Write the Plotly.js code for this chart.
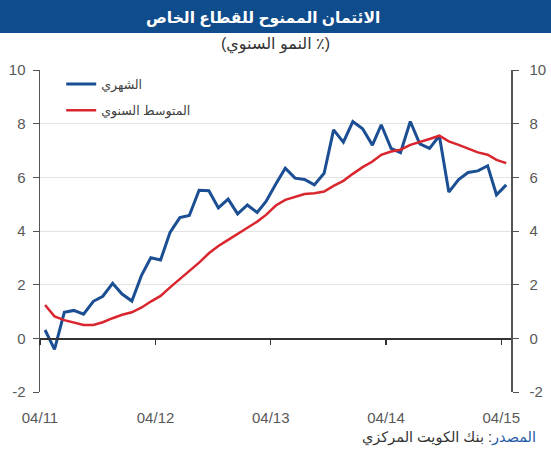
<!DOCTYPE html>
<html>
<head>
<meta charset="utf-8">
<script src="https://cdn.plot.ly/plotly-3.0.1.min.js"></script>
<style>
  html, body { margin: 0; padding: 0; background: #ffffff; }
  #chart { width: 551px; height: 450px; }
</style>
</head>
<body>
<div id="chart"></div>
<script>
// ---- Data ----
const months = [
  "2011-04-01","2011-05-01","2011-06-01","2011-07-01","2011-08-01","2011-09-01",
  "2011-10-01","2011-11-01","2011-12-01","2012-01-01","2012-02-01","2012-03-01",
  "2012-04-01","2012-05-01","2012-06-01","2012-07-01","2012-08-01","2012-09-01",
  "2012-10-01","2012-11-01","2012-12-01","2013-01-01","2013-02-01","2013-03-01",
  "2013-04-01","2013-05-01","2013-06-01","2013-07-01","2013-08-01","2013-09-01",
  "2013-10-01","2013-11-01","2013-12-01","2014-01-01","2014-02-01","2014-03-01",
  "2014-04-01","2014-05-01","2014-06-01","2014-07-01","2014-08-01","2014-09-01",
  "2014-10-01","2014-11-01","2014-12-01","2015-01-01","2015-02-01","2015-03-01",
  "2015-04-01"
];

const monthly = [
  0.31, -0.41, 0.97, 1.04, 0.90, 1.38, 1.57, 2.05, 1.65, 1.39, 2.36, 3.00,
  2.92, 3.95, 4.50, 4.58, 5.52, 5.50, 4.86, 5.19, 4.64, 4.97, 4.69, 5.10,
  5.75, 6.34, 5.97, 5.92, 5.72, 6.15, 7.77, 7.31, 8.08, 7.81, 7.20, 7.96,
  7.08, 6.92, 8.08, 7.25, 7.08, 7.55, 5.45, 5.92, 6.18, 6.24, 6.43, 5.35,
  5.72
];

const annualAvg = [
  1.24, 0.82, 0.68, 0.60, 0.50, 0.50, 0.60, 0.75, 0.88, 0.97, 1.15, 1.37,
  1.58, 1.90, 2.20, 2.49, 2.82, 3.17, 3.44, 3.67, 3.89, 4.14, 4.35, 4.60,
  4.95, 5.16, 5.28, 5.38, 5.41, 5.47, 5.68, 5.87, 6.13, 6.38, 6.59, 6.84,
  6.96, 7.03, 7.21, 7.31, 7.43, 7.55, 7.34, 7.21, 7.06, 6.93, 6.84, 6.65,
  6.53
];

const seriesNames = ["الشهري", "المتوسط السنوي"];
const tickDates = ["2011-03-16", "2012-03-16", "2013-03-16", "2014-03-16", "2015-03-16"];
const tickLabels = ["04/11", "04/12", "04/13", "04/14", "04/15"];
const yTicks = [-2, 0, 2, 4, 6, 8, 10];
const yTickLabels = ["-2", "0", "2", "4", "6", "8", "10"];

const titleText = "الائتمان الممنوح للقطاع الخاص";
const subtitleText = "(النمو السنوي ٪)";
const sourceLabel = "المصدر";
const sourceText = "بنك الكويت المركزي";

// ---- Styling ----
const FONT = "Liberation Sans, Arial, DejaVu Sans, sans-serif";
const xRange = ["2011-03-16", "2015-04-16"];
const yRange = [-2, 10];

const traces = [
  {
    x: months, y: monthly, name: seriesNames[0],
    type: "scatter", mode: "lines",
    line: { color: "#1b4e93", width: 3 },
    xaxis: "x", yaxis: "y",
    legendgroup: "a"
  },
  {
    x: months, y: annualAvg, name: seriesNames[1],
    type: "scatter", mode: "lines",
    line: { color: "#d9262e", width: 2.5 },
    xaxis: "x2", yaxis: "y2",
    legendgroup: "b"
  }
];

const layout = {
  width: 551, height: 450,
  margin: { l: 40, r: 40, t: 70, b: 58 },
  paper_bgcolor: "#ffffff",
  plot_bgcolor: "#ffffff",
  font: { family: FONT, color: "#595959", size: 15 },
  showlegend: true,
  legend: {
    x: 0.045, y: 1.002, xanchor: "left", yanchor: "top",
    bgcolor: "rgba(0,0,0,0)",
    font: { size: 12.5, color: "#404040", family: FONT },
    itemwidth: 30,
    tracegroupgap: 7
  },
  xaxis: {
    type: "date",
    range: xRange,
    tickmode: "array",
    tickvals: tickDates,
    ticktext: tickLabels,
    showgrid: false,
    zeroline: false,
    showline: false,
    ticks: "outside",
    ticklen: 12,
    tickcolor: "rgba(0,0,0,0)",
    tickfont: { size: 15, color: "#595959" },
    fixedrange: true
  },
  xaxis2: {
    type: "date",
    overlaying: "x",
    anchor: "free",
    position: (0 - yRange[0]) / (yRange[1] - yRange[0]),
    range: xRange,
    tickmode: "array",
    tickvals: tickDates,
    showticklabels: false,
    showgrid: false,
    zeroline: false,
    showline: true,
    linecolor: "#333333",
    linewidth: 1.5,
    ticks: "outside",
    ticklen: 5,
    tickcolor: "#333333",
    tickwidth: 1.2
  },
  yaxis: {
    range: yRange,
    tickmode: "array",
    tickvals: yTicks,
    ticktext: yTickLabels,
    showgrid: true,
    gridcolor: "#e3e3e3",
    gridwidth: 1,
    zeroline: false,
    showline: true,
    linecolor: "#555555",
    linewidth: 1.5,
    ticks: "outside",
    ticklen: 6,
    tickcolor: "#555555",
    tickfont: { size: 15, color: "#595959" },
    ticklabelstandoff: 4
  },
  yaxis2: {
    range: yRange,
    overlaying: "y",
    side: "right",
    anchor: "x",
    tickmode: "array",
    tickvals: yTicks,
    ticktext: yTickLabels,
    showgrid: false,
    zeroline: false,
    showline: true,
    linecolor: "#555555",
    linewidth: 1.5,
    ticks: "outside",
    ticklen: 6,
    tickcolor: "#555555",
    tickfont: { size: 15, color: "#595959" },
    ticklabelstandoff: 8
  },
  shapes: [
    {
      type: "rect", xref: "paper", yref: "paper",
      x0: -0.1, x1: 1.1, y0: 1 + 37 / 322, y1: 1 + 75 / 322,
      fillcolor: "#0f4c8c", line: { width: 0 }, layer: "below"
    }
  ],
  annotations: [
    {
      text: titleText, xref: "paper", yref: "paper",
      x: (263 - 40) / 471, y: 1 + 52 / 322, xanchor: "center", yanchor: "middle",
      showarrow: false,
      font: { family: FONT, size: 15.5, color: "#ffffff", weight: "bold" }
    },
    {
      text: subtitleText, xref: "paper", yref: "paper",
      x: 0.5, y: 1 + 25 / 322, xanchor: "center", yanchor: "middle",
      showarrow: false,
      font: { family: FONT, size: 16, color: "#333333" }
    },
    {
      text: '<span style="color:#1f5aa6">' + sourceLabel + '</span>: ' + sourceText,
      xref: "paper", yref: "paper",
      x: (538 - 40) / 471, y: (392 - 437) / 322,
      xanchor: "right", yanchor: "middle",
      showarrow: false,
      font: { family: FONT, size: 14.5, color: "#333333" }
    }
  ]
};

Plotly.newPlot("chart", traces, layout, { displayModeBar: false, staticPlot: true });
</script>
</body>
</html>
